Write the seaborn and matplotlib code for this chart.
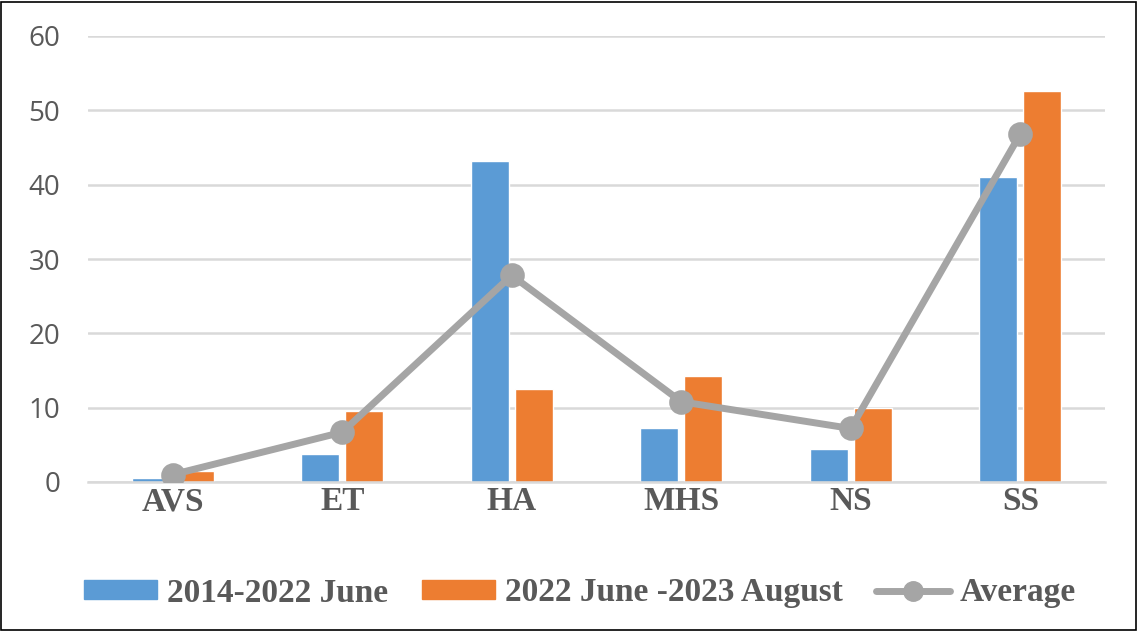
import matplotlib
matplotlib.use("Agg")
import matplotlib.pyplot as plt
import matplotlib.patches as mpatches
from matplotlib.lines import Line2D
import seaborn as sns
import pandas as pd

categories = ["AVS", "ET", "HA", "MHS", "NS", "SS"]
series1_name = "2014-2022 June"
series2_name = "2022 June -2023 August"
avg_name = "Average"
series1 = [0.6, 3.8, 43.2, 7.3, 4.4, 41.0]
series2 = [1.5, 9.5, 12.5, 14.3, 10.0, 52.6]
average = [1.0, 6.7, 27.8, 10.8, 7.2, 46.8]
yticks = [0, 10, 20, 30, 40, 50, 60]

blue = "#5B9BD5"
orange = "#ED7D31"
gray = "#A5A5A5"
txt = "#595959"

sns.set_theme(style="white")

df = pd.DataFrame({
    "cat": categories * 2,
    "val": series1 + series2,
    "series": [series1_name] * len(categories) + [series2_name] * len(categories),
})

fig = plt.figure(figsize=(11.38, 6.31), dpi=100)
ax = fig.add_axes([88 / 1138, 1 - 482 / 631, (1105 - 88) / 1138, (482 - 36) / 631])

sns.barplot(data=df, x="cat", y="val", hue="series", order=categories,
            hue_order=[series1_name, series2_name],
            palette=[blue, orange], saturation=1, width=0.52, gap=0.13,
            legend=False, ax=ax, zorder=2)

sns.pointplot(x=categories, y=average, order=categories, color=gray,
              markers="o", markersize=14, linewidth=5, ax=ax, zorder=3)

ax.set_ylim(0, 60)
ax.set_xlim(-0.5, len(categories) - 0.5)
ax.set_yticks(yticks)
ax.set_xlabel("")
ax.set_ylabel("")
ax.yaxis.grid(True, color="#D9D9D9", linewidth=1.8, zorder=0)
ax.set_axisbelow(True)
for s in ["top", "right", "left"]:
    ax.spines[s].set_visible(False)
ax.spines["bottom"].set_color("#D9D9D9")
ax.spines["bottom"].set_linewidth(1.8)
ax.tick_params(axis="both", length=0)
ax.tick_params(axis="y", pad=20, labelcolor=txt)
ax.tick_params(axis="x", pad=3, labelcolor=txt)
for lab in ax.get_yticklabels():
    lab.set_fontfamily(["Open Sans", "DejaVu Sans"])
    lab.set_fontsize(20)
for lab in ax.get_xticklabels():
    lab.set_fontfamily(["Liberation Serif", "DejaVu Serif"])
    lab.set_fontweight("bold")
    lab.set_fontsize(24)

handles = [
    mpatches.Patch(color=blue, label=series1_name),
    mpatches.Patch(color=orange, label=series2_name),
    Line2D([0], [0], color=gray, linewidth=5, marker="o", markersize=14, label=avg_name),
]
leg = fig.legend(handles=handles, loc="center", bbox_to_anchor=(580 / 1138, 1 - 593 / 631),
                 ncol=3, frameon=False, handlelength=2.2, handleheight=0.5,
                 columnspacing=1.0, handletextpad=0.3,
                 prop={"family": ["Liberation Serif", "DejaVu Serif"], "weight": "bold", "size": 24})
for t in leg.get_texts():
    t.set_color(txt)

fig.add_artist(mpatches.Rectangle((1 / 1138, 1 / 631), 1 - 3 / 1138, 1 - 3 / 631,
                                  transform=fig.transFigure, fill=False,
                                  edgecolor="black", linewidth=1.2))

fig.savefig("out.png", dpi=100)
